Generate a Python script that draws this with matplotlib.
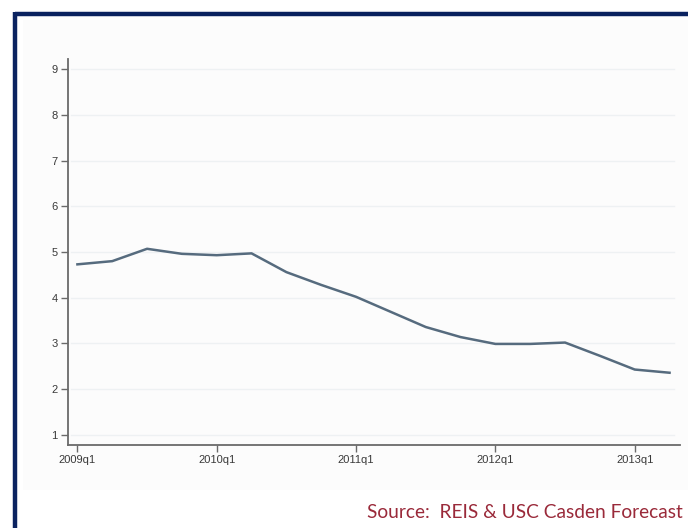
"""Vacancy rate line chart, 2009q1-2013q2, with source note."""

import matplotlib

matplotlib.use("Agg")
import matplotlib.pyplot as plt
from matplotlib.patches import Rectangle
from matplotlib.lines import Line2D

quarters = [
    "2009q1", "2009q2", "2009q3", "2009q4",
    "2010q1", "2010q2", "2010q3", "2010q4",
    "2011q1", "2011q2", "2011q3", "2011q4",
    "2012q1", "2012q2", "2012q3", "2012q4",
    "2013q1", "2013q2",
]
values = [
    4.73, 4.80, 5.07, 4.96,
    4.93, 4.97, 4.56, 4.28,
    4.02, 3.69, 3.36, 3.14,
    2.99, 2.99, 3.02, 2.73,
    2.43, 2.36,
]
tick_labels = ["2009q1", "2010q1", "2011q1", "2012q1", "2013q1"]
y_ticks = [1, 2, 3, 4, 5, 6, 7, 8, 9]

fig = plt.figure(figsize=(6.88, 5.28), dpi=100)
fig.patch.set_facecolor("white")

# faint grey panel behind the graph (pasted chart image look)
fig.patches.append(Rectangle((23 / 688, 1 - 490 / 528), 1, 470 / 528,
                             transform=fig.transFigure, facecolor="#fcfcfc",
                             edgecolor="none", zorder=-10))

# navy frame (top and left edges visible)
navy = "#0b2360"
fig.add_artist(Line2D([15 / 688, 1.0], [1 - 13.5 / 528] * 2, color=navy, lw=3.2,
                      transform=fig.transFigure, solid_capstyle="butt"))
fig.add_artist(Line2D([15 / 688] * 2, [0.0, 1 - 12 / 528], color=navy, lw=3.2,
                      transform=fig.transFigure, solid_capstyle="butt"))

ax = fig.add_axes([68 / 688, 83 / 528, 612 / 688, 386 / 528])
ax.set_facecolor("none")
ax.set_zorder(5)

x = list(range(len(quarters)))
ax.plot(x, values, color="#566b7e", lw=1.8, solid_joinstyle="round")

ax.set_xlim(-0.27, 17.3)
ax.set_ylim(0.78, 9.22)
ax.set_yticks(y_ticks)
ax.set_yticklabels([str(v) for v in y_ticks])
ax.set_xticks([quarters.index(q) for q in tick_labels])
ax.set_xticklabels(tick_labels)

for y in y_ticks:
    ax.axhline(y, xmin=0.005, xmax=0.99, color="#eef1f3", lw=1.0, zorder=0)

for side in ("top", "right"):
    ax.spines[side].set_visible(False)
for side in ("left", "bottom"):
    ax.spines[side].set_color("#6a6a6a")
    ax.spines[side].set_linewidth(1.3)

ax.tick_params(axis="both", colors="#6a6a6a", labelcolor="#3a3a3a",
               labelsize=8, length=5, width=1.0, pad=2.5)
for lbl in ax.get_xticklabels() + ax.get_yticklabels():
    lbl.set_family("Liberation Sans")

fig.text(683 / 688, 1 - 513 / 528, "Source:  REIS & USC Casden Forecast",
         ha="right", va="center", fontsize=13.8, color="#9a2a3a", family="Lato")

fig.savefig("out.png", dpi=100, facecolor="white")
